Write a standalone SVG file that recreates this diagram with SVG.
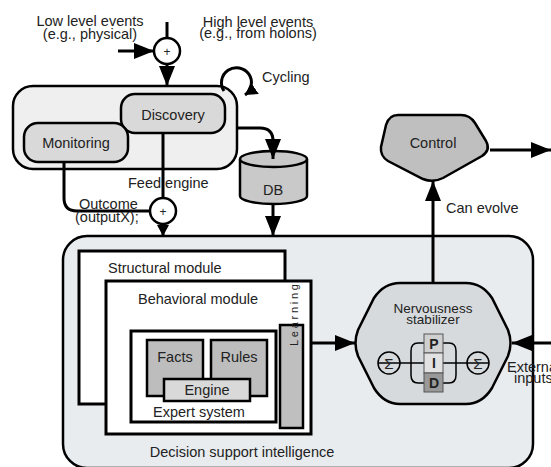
<svg xmlns="http://www.w3.org/2000/svg" width="551" height="467" viewBox="0 0 551 467">
<defs>
<marker id="ah" markerUnits="userSpaceOnUse" markerWidth="22" markerHeight="16" refX="20" refY="8" orient="auto">
<path d="M0,0 L20,8 L0,16 z" fill="#000"/>
</marker>
<marker id="ahs" markerUnits="userSpaceOnUse" markerWidth="12" markerHeight="12" refX="11" refY="6" orient="auto">
<path d="M0,0 L11,6 L0,12 z" fill="#000"/>
</marker>
<marker id="ahc" markerUnits="userSpaceOnUse" markerWidth="14" markerHeight="14" refX="12" refY="7" orient="auto">
<path d="M0,0 L12,7 L0,14 z" fill="#000"/>
</marker>
</defs>
<style>
text{font-family:"Liberation Sans",Arial,sans-serif;font-size:14.5px;fill:#222}
.c{text-anchor:middle}
.b{stroke:#000;stroke-width:2.5}
.ln{fill:none;stroke:#000;stroke-width:3}
.th{fill:none;stroke:#000;stroke-width:1.5}
</style>

<g id="big-box">
<rect x="63" y="236" width="470" height="232" rx="24" fill="#e8ecef" class="b"/>
<text class="c" x="242" y="457">Decision support intelligence</text>
</g>

<g id="top-box">
<rect x="13" y="86" width="224" height="83" rx="20" fill="#efefef" class="b"/>
</g>
<g id="discovery">
<rect x="121" y="94" width="104" height="39" rx="14" fill="#d9d9d9" class="b"/>
<text class="c" x="173" y="120">Discovery</text>
</g>
<g id="monitoring">
<rect x="24" y="123" width="104" height="39" rx="14" fill="#d9d9d9" class="b"/>
<text class="c" x="76" y="148">Monitoring</text>
</g>

<g id="db">
<path d="M240 159 L240 196 A33.5 8 0 0 0 307 196 L307 159" fill="#c9c9c9" class="b"/>
<ellipse cx="273.5" cy="159" rx="33.5" ry="8" fill="#c9c9c9" class="b"/>
<text class="c" x="273" y="195">DB</text>
</g>

<g id="control">
<path d="M398 115 L461 115 Q470 115 475 123 L486 141 Q491 150 482 156 L443 178 Q433 183 423 179 L388 161 Q380 156 381 147 L386 125 Q389 115 398 115 Z" fill="#bfbfbf" class="b"/>
<text class="c" x="433" y="148">Control</text>
</g>

<g id="structural">
<rect x="79" y="251" width="206" height="153" fill="#fff" stroke="#000" stroke-width="3"/>
<text x="108" y="273">Structural module</text>
</g>
<g id="behavioral">
<rect x="106" y="281" width="205" height="153" fill="#fff" stroke="#000" stroke-width="3"/>
<text x="138" y="304">Behavioral module</text>
</g>
<g id="expert-system">
<rect x="131" y="331" width="145" height="91" fill="#fff" stroke="#000" stroke-width="3"/>
<text class="c" x="199" y="417">Expert system</text>
</g>
<g id="facts">
<rect x="147" y="340" width="56" height="56" fill="#bdbdbd" class="b"/>
<text class="c" x="175" y="362">Facts</text>
</g>
<g id="rules">
<rect x="211" y="340" width="56" height="56" fill="#bdbdbd" class="b"/>
<text class="c" x="239" y="362">Rules</text>
</g>
<g id="engine">
<rect x="164" y="379" width="86" height="22" fill="#d9d9d9" class="b"/>
<text class="c" x="207" y="395">Engine</text>
</g>
<g id="learning">
<rect x="280" y="325" width="23" height="103" fill="#bfbfbf" class="b"/>
<text transform="translate(298,315) rotate(-90)" class="c" x="0" y="0" style="font-size:11px" textLength="62" lengthAdjust="spacing">Learning</text>
</g>

<g id="nervousness">
<path d="M400 283 L466 283 Q482 283 492 298 L508 330 Q513 343 508 356 L492 388 Q482 404 466 404 L400 404 Q384 404 374 388 L358 356 Q353 343 358 330 L374 298 Q384 283 400 283 Z" fill="#d6dadd" class="b"/>
<text class="c" x="433" y="313" style="font-size:13.5px">Nervousness</text>
<text class="c" x="433" y="324" style="font-size:13.5px">stabilizer</text>
<line x1="378" y1="363" x2="489" y2="363" class="th"/>
<path d="M424 343 L418 343 Q411 343 411 351 L411 375 Q411 383 418 383 L424 383" class="th"/>
<path d="M443 343 L449 343 Q456 343 456 351 L456 375 Q456 383 449 383 L443 383" class="th"/>
<circle cx="389" cy="363" r="11" fill="#f4f4f4" class="th"/>
<text class="c" x="389" y="369" style="font-size:15px">Σ</text>
<circle cx="478" cy="363" r="11" fill="#f4f4f4" class="th"/>
<text class="c" x="478" y="369" style="font-size:15px">Σ</text>
<rect x="424" y="334" width="19" height="19" fill="#d0d0d0" stroke="#555" stroke-width="1"/>
<rect x="424" y="353" width="19" height="20" fill="#e2e2e2" stroke="#555" stroke-width="1"/>
<rect x="424" y="373" width="19" height="19" fill="#999" stroke="#555" stroke-width="1"/>
<text class="c" x="434" y="349" style="font-size:14px;font-weight:bold">P</text>
<text class="c" x="434" y="368" style="font-size:14px;font-weight:bold">I</text>
<text class="c" x="434" y="388" style="font-size:14px;font-weight:bold">D</text>
</g>

<g id="plus1">
<circle cx="167" cy="51" r="13" fill="#fff" class="b"/>
<text class="c" x="167" y="56" style="font-size:12px">+</text>
</g>
<g id="plus2">
<circle cx="163" cy="211" r="13" fill="#fff" class="b"/>
<text class="c" x="163" y="216" style="font-size:12px">+</text>
</g>

<g id="connectors">
<line x1="167" y1="22" x2="167" y2="38" class="ln"/>
<line x1="118" y1="51" x2="154" y2="51" class="ln" marker-end="url(#ah)"/>
<line x1="167" y1="64" x2="167" y2="86" class="ln" marker-end="url(#ah)"/>
<path d="M224 91 A15 15 0 1 1 245 95" class="ln" marker-end="url(#ahc)"/>
<path d="M237 128 L260 128 Q273 128 273 141 L273 159" class="ln" marker-end="url(#ah)"/>
<line x1="273" y1="204" x2="273" y2="236" class="ln" marker-end="url(#ah)"/>
<path d="M64 162 L64 198 Q64 211 77 211 L150 211" class="ln"/>
<line x1="163" y1="133" x2="163" y2="198" class="ln"/>
<line x1="163" y1="224" x2="163" y2="236" class="ln" marker-end="url(#ahs)"/>
<line x1="433" y1="283" x2="433" y2="181" class="ln" marker-end="url(#ah)"/>
<line x1="490" y1="150" x2="551" y2="150" class="ln" marker-end="url(#ah)"/>
<line x1="311" y1="343" x2="355" y2="343" class="ln" marker-end="url(#ah)"/>
<line x1="551" y1="343" x2="512" y2="343" class="ln" marker-end="url(#ah)"/>
</g>

<g id="labels">
<text class="c" x="90" y="26">Low level events</text>
<text class="c" x="90" y="39">(e.g., physical)</text>
<text class="c" x="258" y="27">High level events</text>
<text class="c" x="258" y="38">(e.g., from holons)</text>
<text x="262" y="82">Cycling</text>
<text x="128" y="188">Feed engine</text>
<text x="79" y="209">Outcome</text>
<text x="75" y="222">(outputX);</text>
<text x="446" y="213">Can evolve</text>
<text x="507" y="372">External</text>
<text x="514" y="383">inputs</text>
</g>
</svg>
